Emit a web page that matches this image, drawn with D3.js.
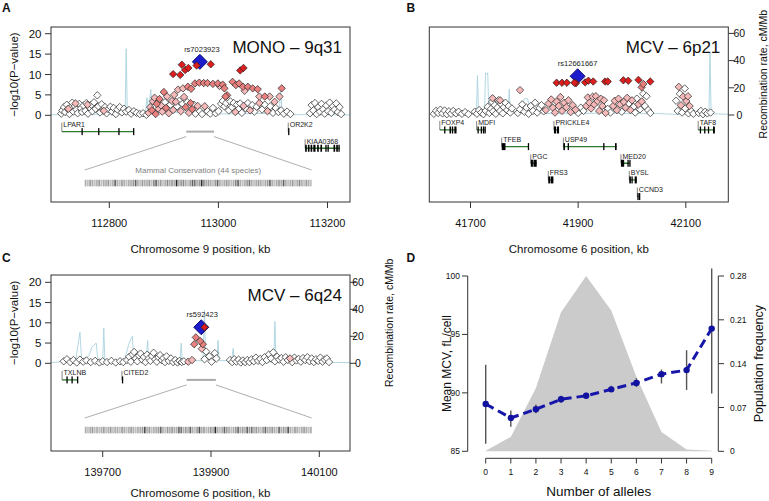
<!DOCTYPE html>
<html><head><meta charset="utf-8">
<script src="https://cdn.jsdelivr.net/npm/d3@7"></script>
<style>body{margin:0;background:#fff}svg{display:block;font-family:"Liberation Sans",Arial,Helvetica,sans-serif}</style>
</head><body><svg id="c" width="769" height="501"></svg>
<script>
// ---------------- DATA ----------------
// SNPs: [position kb, -log10 P, LD class] class 0 white,1 light pink,2 salmon,3 red,4 lead
const snpsA = [
 [112712,0.4,0],[112714,1.2,0],[112717,2.0,0],[112719,0.8,0],[112722,2.6,0],[112724,1.5,0],[112727,0.3,0],[112729,1.9,0],[112732,3.1,0],[112734,0.9,0],
 [112737,2.3,0],[112740,1.4,0],[112742,0.5,0],[112745,2.8,0],[112748,1.7,0],[112750,0.8,0],[112753,2.4,0],[112756,1.1,0],[112758,3.0,0],[112761,0.4,0],
 [112764,1.9,0],[112767,2.6,0],[112769,1.0,0],[112772,3.2,0],[112775,1.6,0],[112778,4.9,0],[112780,2.2,0],[112783,0.7,0],[112786,2.7,0],[112789,1.3,0],
 [112792,2.0,0],[112795,0.5,0],[112798,1.5,0],[112802,2.1,0],[112805,0.9,0],[112808,1.8,0],[112812,0.3,0],[112815,1.4,0],[112819,2.0,0],[112823,0.7,0],
 [112827,1.6,0],[112831,0.9,0],[112836,1.3,0],[112840,0.4,0],[112845,1.0,0],[112850,0.6,0],[112856,0.3,0],[112862,0.5,0],[112868,0.1,0],
 [112738,2.9,1],[112760,2.6,1],[112725,1.6,1],[112790,1.1,1],
 [112872,0.6,1],[112875,2.0,1],[112878,1.2,2],[112880,3.4,1],[112883,4.3,1],[112885,0.3,2],[112887,2.8,2],[112890,1.6,1],[112892,4.0,2],[112895,2.4,1],
 [112897,0.9,1],[112900,5.7,2],[112902,3.2,0],[112904,1.8,2],[112906,4.6,1],[112909,0.5,1],[112912,2.6,0],[112915,3.5,1],[112917,1.3,1],[112919,5.0,1],[112922,3.3,1],
 [112924,2.2,0],[112928,3.5,0],[112931,1.0,1],[112934,2.8,0],[112937,4.5,1],[112940,2.0,2],[112943,3.2,0],[112946,0.6,1],[112949,3.0,2],[112952,1.5,2],
 [112955,2.6,0],[112958,0.4,0],[112962,2.3,1],[112966,1.0,0],[112970,0.3,0],[112975,2.2,1],[112980,1.0,0],[112985,0.4,0],[112990,1.8,0],[112995,0.5,0],
 [113000,1.0,0],[113005,2.8,0],[113008,3.5,0],[113011,2.2,0],[113014,3.0,0],[113016,4.9,2],[113019,1.2,0],[113022,3.4,0],[113025,2.0,0],[113028,3.0,0],
 [113031,0.8,1],[113034,2.6,0],[113037,1.5,0],[113040,2.9,0],[113043,0.6,0],[113046,2.3,1],[113050,1.7,0],[113054,3.0,0],[113058,1.2,1],[113062,2.5,0],
 [113066,0.9,0],[113070,2.1,0],[113075,3.0,1],[113080,1.4,0],[113085,2.6,0],[113090,1.0,1],[113095,2.2,0],[113100,0.6,0],[113105,1.8,0],[113110,0.8,0],
 [113115,1.2,0],[113120,0.4,0],[113126,0.9,0],[113132,0.3,0],
 [112926,6.3,1],[112935,6.6,1],[112944,7.0,2],[112950,6.5,2],[112957,7.8,2],[112965,8.0,2],[112973,7.9,2],[112980,7.9,2],[112990,7.7,2],[112999,7.8,2],
 [113008,7.5,2],[113011,6.6,2],[113013,4.6,2],[113026,8.2,2],[113032,7.4,2],[113038,7.8,2],[113045,7.0,2],[113054,7.0,2],[113063,6.6,2],[113072,6.4,2],
 [113075,4.6,1],[113085,4.6,2],[113094,4.6,1],[113103,3.3,1],[113112,4.6,1],[113116,6.6,2],[113002,7.2,1],[113048,6.0,1],
 [112917,10.1,3],[112930,9.9,3],[112933,12.4,3],[112939,11.1,3],[112945,11.6,3],[112986,12.5,3],[113040,11.0,3],[113046,11.6,3],[112960,12.2,3],
 [112966,13.1,4],
 [113168,0.5,0],[113171,2.5,0],[113174,1.2,0],[113177,3.0,0],[113180,0.3,0],[113183,2.0,0],[113186,0.9,0],[113189,2.8,0],[113192,1.5,0],[113195,0.4,0],
 [113198,2.4,0],[113201,1.0,0],[113204,3.1,0],[113207,0.6,0],[113210,2.2,0],[113213,1.4,0],[113216,2.9,0],[113219,0.8,0],[113222,2.0,0],[113225,0.3,0]
];
const snpsB = [
 [41632,0.3,0],[41636,1.0,0],[41640,0.5,0],[41644,1.3,0],[41648,0.4,0],[41652,1.1,0],[41656,0.2,0],[41660,0.9,0],[41664,0.3,0],[41668,1.0,0],
 [41673,0.4,0],[41678,0.8,0],[41684,0.3,0],[41690,0.7,0],[41696,0.2,0],
 [41708,0.8,0],[41712,0.3,0],[41716,1.2,0],[41720,0.6,0],[41724,0.2,0],[41728,1.0,0],[41732,2.0,0],[41735,0.5,0],[41738,1.5,0],[41740,3.2,0],
 [41742,0.9,0],[41745,2.4,0],[41747,0.3,0],[41750,1.8,0],[41752,3.6,0],[41755,1.0,0],[41757,2.7,0],[41760,0.4,0],[41762,1.9,0],[41765,3.0,0],
 [41768,1.2,0],[41771,2.2,0],[41774,0.6,0],[41777,1.6,0],
 [41788,0.5,0],[41792,1.4,0],[41796,2.6,0],[41800,0.8,0],[41804,1.8,0],[41808,0.3,0],[41812,2.2,0],[41816,1.0,0],[41820,3.0,0],[41824,0.6,0],
 [41828,1.7,0],[41832,2.4,0],[41836,0.9,0],
 [41741,4.1,1],[41755,3.6,1],[41792,6.1,1],[41840,1.2,1],[41845,2.8,1],[41850,3.8,1],[41853,1.8,1],[41857,0.6,1],[41860,3.3,1],[41864,2.2,1],
 [41867,4.4,1],[41870,1.0,1],[41874,3.0,1],[41878,1.9,1],[41882,3.6,1],[41886,0.7,1],[41890,2.4,1],[41895,1.3,1],[41900,0.5,0],[41905,1.8,0],
 [41910,1.0,0],[41915,2.2,1],[41918,4.3,1],[41921,3.0,1],[41924,1.6,1],[41927,4.5,1],[41930,2.6,1],[41933,4.6,1],[41936,3.4,1],[41939,1.0,1],
 [41942,4.0,1],[41945,2.2,1],[41948,3.6,1],[41951,0.5,1],[41955,1.5,0],[41960,0.6,0],[41965,2.2,1],[41968,3.5,1],[41972,1.2,1],[41975,4.0,1],
 [41978,2.6,1],[41981,0.8,0],[41985,3.2,1],[41988,1.8,1],[41991,4.2,1],[41994,2.8,0],[41997,1.2,1],[42000,3.6,1],[42003,2.0,0],[42006,0.6,0],
 [42009,4.0,0],[42012,2.6,1],[42015,1.4,0],[42018,3.3,1],[42021,5.2,0],[42024,2.2,0],[42027,4.6,0],[42030,1.2,0],[42034,0.5,0],
 [42082,3.5,0],[42085,1.0,0],[42087,6.9,1],[42089,5.2,0],[42091,2.4,1],[42093,0.6,0],[42095,4.5,1],[42098,6.5,0],[42099,1.6,0],[42101,3.4,1],
 [42104,4.6,1],[42105,0.4,0],[42107,2.2,1],[42110,1.0,0],[42114,0.3,0],
 [42124,0.5,0],[42128,1.0,0],[42132,0.2,0],[42136,0.8,0],[42140,0.4,0],[42146,0.6,0],
 [42018,6.8,2],[42021,7.6,2],
 [41860,7.9,3],[41870,7.9,3],[41879,7.9,3],[41896,7.8,3],[41913,8.0,3],[41919,8.4,3],[41928,8.2,3],[41950,8.2,3],[41955,8.2,3],[41984,8.5,3],
 [41993,8.4,3],[42012,8.6,3],[42034,8.2,3],
 [41899,9.5,4],[41893,7.9,3]
];
const snpsC = [
 [139628,0.5,0],[139634,1.0,0],[139640,0.3,0],[139646,0.8,0],[139652,0.2,0],[139658,0.9,0],[139664,0.4,0],[139670,0.7,0],[139678,0.3,0],[139686,0.6,0],
 [139694,0.2,0],[139700,0.5,0],[139708,0.3,0],[139716,0.6,0],[139724,0.2,0],[139732,0.5,0],[139738,0.3,0],
 [139745,0.8,0],[139749,1.6,0],[139752,0.4,0],[139755,2.2,0],[139758,2.8,0],[139761,1.2,0],[139764,0.5,0],[139767,1.9,0],[139770,2.4,0],[139773,0.9,0],
 [139776,1.6,0],[139779,0.3,0],[139782,2.1,0],[139785,1.2,0],[139788,0.6,0],[139791,1.8,0],[139794,2.6,0],[139797,1.0,0],[139800,0.4,0],[139803,1.5,0],
 [139806,2.0,0],[139809,0.8,0],[139812,1.3,0],[139815,0.3,0],[139818,1.7,0],[139822,0.6,0],[139826,1.2,0],[139830,0.3,0],[139834,0.8,0],[139838,0.2,0],
 [139842,0.6,0],[139846,0.3,0],[139850,0.5,0],
 [139858,0.4,1],[139865,0.8,1],[139883,3.6,1],
 [139872,6.4,2],[139869,4.7,2],[139885,4.7,2],[139880,5.5,2],
 [139891,2.9,0],[139897,1.7,0],[139907,2.5,0],[139910,1.2,0],[139901,0.4,0],[139888,1.0,0],
 [139935,0.8,0],[139939,0.3,0],[139943,1.0,0],[139947,0.4,0],[139951,0.9,0],[139955,0.2,0],[139959,0.7,0],[139963,0.3,0],[139967,0.8,0],[139971,0.3,0],
 [139975,1.0,0],[139979,0.5,0],[139983,1.4,0],[139987,0.6,0],[139991,1.1,0],[139995,0.3,0],[139999,1.5,0],[140003,0.8,0],[140007,2.2,0],[140011,1.2,0],
 [140015,2.7,0],[140018,0.5,0],[140022,1.6,0],[140026,0.9,0],[140030,1.3,0],[140034,0.4,0],[140038,1.5,0],[140042,0.8,0],[140046,1.2,1],[140050,0.3,0],
 [140054,1.4,0],[140058,0.7,0],[140062,1.1,0],[140066,0.4,0],[140070,1.3,0],[140074,0.8,0],[140078,1.5,0],[140082,0.5,0],[140086,1.2,0],[140090,0.3,0],
 [140094,1.0,0],[140098,0.6,0],[140102,1.4,0],[140106,0.4,0],[140110,0.9,0],[140114,1.2,0],[140118,0.3,0],
 [139882,8.9,4],[139888,8.9,3]
];
// recombination rate, [kb, cM/Mb]
const recA = [[112693,0.4],[112740,0.6],[112800,0.8],[112829,0.8],[112831,49],[112833,0.8],[112866,1],[112869,13],[112872,3],[112876,19],[112879,4],[112890,3],[112893,9],[112896,3],[112930,2],[112970,1.5],[113000,1],[113050,1.2],[113100,1.5],[113112,2],[113114,20],[113117,2],[113140,0.5],[113200,0.4],[113242,0.3]];
const recB = [[41623,0.5],[41690,0.8],[41711,1],[41713,29],[41715,1],[41726,1],[41728,31],[41730,30],[41732,31],[41734,1],[41770,1.5],[41772,19],[41774,2],[41795,3],[41800,12],[41806,12],[41812,2],[41850,1],[41900,1],[41950,1.5],[42000,1],[42050,1],[42080,0.5],[42143,1],[42145,46],[42147,1],[42180,0.5]];
const recC = [[139604,0.5],[139650,2],[139658,23],[139661,3],[139674,5],[139680,12],[139688,15],[139691,3],[139700,2],[139702,26],[139704,2],[139740,2],[139748,14],[139752,18],[139755,20],[139757,2],[139780,2],[139783,17],[139785,2],[139843,2],[139845,15],[139847,2],[139885,2],[139888,39],[139890,3],[139911,2],[139913,17],[139915,2],[139938,2],[139941,11],[139943,1],[140016,1],[140018,31],[140020,1],[140158,0.5]];
// genes: name, start, end, row, exons [start,end]
const genesA = [
 {name:"LPAR1",start:112713,end:112844,row:0,exons:[[112749,112749.6],[112779.5,112780.1],[112816.5,112817.1],[112843.5,112844]]},
 {name:"OR2K2",start:113128,end:113129,row:0,exons:[[113127.8,113129]]},
 {name:"KIAA0368",start:113159,end:113222,row:1,exons:[[113159,113162],[113164,113167],[113169,113172],[113174,113178],[113181,113184],[113187,113190],[113196,113198],[113200,113202],[113211,113214],[113216,113219],[113220,113222]]}
];
const genesB = [
 {name:"FOXP4",start:41643,end:41674,row:0,exons:[[41651,41652],[41661,41664],[41665.5,41667.5],[41670,41674]]},
 {name:"MDFI",start:41711.5,end:41727,row:0,exons:[[41713,41714],[41719,41720],[41723,41724],[41726,41727]]},
 {name:"PRICKLE4",start:41855,end:41864.5,row:0,exons:[[41855,41859],[41860.5,41864.5]]},
 {name:"TAF8",start:42123,end:42154,row:0,exons:[[42126,42127],[42134,42135],[42141,42142.5],[42150.5,42154]]},
 {name:"TFEB",start:41758,end:41807.5,row:1,exons:[[41758,41765],[41806.5,41807.5]]},
 {name:"USP49",start:41872.5,end:41971.5,row:1,exons:[[41872.5,41875.5],[41880.5,41883],[41946.5,41947.3],[41968.5,41971.5]]},
 {name:"PGC",start:41812,end:41823,row:2,exons:[[41812,41816],[41817,41823]]},
 {name:"MED20",start:41979.5,end:41996,row:2,exons:[[41979.5,41985.5],[41991.5,41992.3],[41995,41996]]},
 {name:"FRS3",start:41844.5,end:41854,row:3,exons:[[41844.5,41848],[41849,41854]]},
 {name:"BYSL",start:41995,end:42009,row:3,exons:[[41995,41998],[41999,42001],[42005,42009]]},
 {name:"CCND3",start:42010,end:42015,row:4,exons:[[42010,42011.5],[42013,42015]]}
];
const genesC = [
 {name:"TXLNB",start:139625,end:139654.5,row:0,exons:[[139633,139634],[139642.3,139643.3],[139652.5,139654.5]]},
 {name:"CITED2",start:139735.5,end:139737.5,row:0,exons:[[139735.5,139737.5]]}
];
// highlighted region and conservation strip
const hlA = [112941,112992], stripA = [112755,113171];
const hlC = [139855,139909], stripC = [139667,140086];
const consA = [2,1,3,2,1,2,3,1,2,2, 3,1,2,6,2,1,3,2,1,2, 2,3,6,2,1,3,2,2,3,1, 4,6,2,3,1,2,4,2,3,2, 9,2,3,4,2,1,3,6,5,2,
 3,9,4,2,3,2,1,3,6,2, 1,2,3,2,1,2,4,6,2,1, 2,3,5,2,1,2,3,2,1,2, 3,6,2,1,2,3,2,6,2,1, 2,3,1,2,4,2,1,3,2,1];
const consC = [2,1,2,3,1,2,1,2,3,1, 2,3,1,2,2,1,3,2,1,2, 3,2,1,2,2,3,7,2,3,1, 2,2,3,6,2,1,3,2,3,2, 2,6,5,2,3,2,6,2,1,3,
 7,2,3,1,2,3,2,9,2,1, 2,6,3,2,1,2,3,6,2,3, 2,6,3,5,2,3,2,1,3,6, 2,2,3,2,1,6,2,3,2,7, 2,1,3,2,1,2,3,2,1,2];
// Panel D
const alleles = [0,1,2,3,4,5,6,7,8,9];
const meanMCV = [89.05,87.85,88.6,89.45,89.75,90.3,90.85,91.6,91.95,95.5];
const ciLow  = [85.65,87.1,88.25,89.15,89.5,90.1,90.5,90.8,90.25,89.95];
const ciHigh = [92.4,88.5,89.0,89.75,90.0,90.6,91.25,92.0,93.65,100.65];
const popFreq = [0.001,0.023,0.101,0.222,0.28,0.225,0.119,0.031,0.003,0.001];
const dLeftTicks = [85,90,95,100];
const dRightTicks = [0,0.07,0.14,0.21,0.28];
const pTicks = [0,5,10,15,20];
const rTicks = [0,20,40,60];

// ---------------- DRAW ----------------
const svg = d3.select("#c");
const FILL = ["#ffffff","#f6b9b9","#e8807e","#dd1e1e","#1c1ccc"];
const diamond = (x,y,s)=>`M${x},${y-s}L${x+s},${y}L${x},${y+s}L${x-s},${y}Z`;

function locusPanel(o){
  const g = svg.append("g");
  const clipId = "clip"+o.id;
  svg.append("clipPath").attr("id",clipId).append("rect")
    .attr("x",o.box[0]).attr("y",o.box[1]).attr("width",o.box[2]-o.box[0]).attr("height",o.box[3]-o.box[1]);
  const inner = g.append("g").attr("clip-path",`url(#${clipId})`);
  const x=o.x, y=o.y, r=o.r;
  // recombination
  inner.append("path").datum(o.rec)
    .attr("d", d3.line().x(d=>x(d[0])).y(d=>r(d[1])))
    .attr("fill","none").attr("stroke","#a9d3df").attr("stroke-width",0.9);
  // genes
  const rowY = k => y(o.geneTop - 4.08*k);
  o.genes.forEach(gn=>{
    const yy = rowY(gn.row);
    inner.append("line").attr("x1",x(gn.start)).attr("x2",x(gn.end)).attr("y1",yy).attr("y2",yy)
      .attr("stroke","#2c7a2c").attr("stroke-width",1.3);
    inner.append("line").attr("x1",x(gn.start)).attr("x2",x(gn.start)).attr("y1",yy-9).attr("y2",yy)
      .attr("stroke","#333").attr("stroke-width",0.6);
    gn.exons.forEach(e=>{
      const w = Math.max(1.3, x(e[1])-x(e[0]));
      inner.append("rect").attr("x",x(e[0])).attr("y",yy-3.5).attr("width",w).attr("height",7).attr("fill","#000");
    });
    inner.append("text").attr("x",x(gn.start)+1.5).attr("y",yy-4.5).attr("font-size",7).attr("fill","#222").text(gn.name);
  });
  // highlight + conservation strip
  if(o.hl){
    const y0 = y(0), hy = rowY(0);
    inner.append("line").attr("x1",x(o.hl[0])).attr("x2",x(o.hl[1])).attr("y1",hy).attr("y2",hy)
      .attr("stroke","#aaaaaa").attr("stroke-width",2);
    inner.append("line").attr("x1",x(o.hl[0])).attr("y1",hy+5).attr("x2",x(o.strip[0])).attr("y2",y0+54.7).attr("stroke","#999").attr("stroke-width",0.8);
    inner.append("line").attr("x1",x(o.hl[1])).attr("y1",hy+5).attr("x2",x(o.strip[1])).attr("y2",y0+54.7).attr("stroke","#999").attr("stroke-width",0.8);
    const sx0 = x(o.strip[0]), sx1 = x(o.strip[1]);
    const bx = d3.scaleBand().domain(d3.range(o.cons.length)).range([sx0,sx1]).paddingInner(0.3);
    const sTop = y0+o.stripOff;
    inner.append("rect").attr("x",sx0).attr("y",sTop).attr("width",sx1-sx0).attr("height",6.5).attr("fill","#e6e6e6");
    inner.selectAll(null).data(o.cons).join("rect")
      .attr("x",(d,i)=>bx(i)).attr("y",sTop).attr("width",bx.bandwidth()).attr("height",6.5)
      .attr("fill",d=>{const v=Math.round(212-d*19);return `rgb(${v},${v},${v})`;});
    if(o.consLabel){
      inner.append("text").attr("x",(sx0+sx1)/2).attr("y",y0+57.8).attr("text-anchor","middle")
        .attr("font-size",8).attr("fill","#808080").text(o.consLabel);
    }
  }
  // SNPs
  const order = [0,1,2,4,3];
  order.forEach(c=>{
    inner.selectAll(null).data(o.snps.filter(d=>d[2]===c)).join("path")
      .attr("d",d=>diamond(x(d[0]),y(d[1]), c===4?7.5:3.7))
      .attr("fill",FILL[c]).attr("stroke",c===4?"#101070":"#222").attr("stroke-width",c===4?1:0.7);
  });
  // lead label
  const lead = o.snps.find(d=>d[2]===4);
  g.append("text").attr("x",x(lead[0])+o.leadDx).attr("y",y(lead[1])-10).attr("text-anchor","middle")
    .attr("font-size",7.5).attr("fill","#222").text(o.leadName);
  // title
  g.append("text").attr("x",o.box[2]-8).attr("y",o.box[1]+26.3).attr("text-anchor","end")
    .attr("font-size",17).attr("fill","#111").text(o.title);
  // box
  g.append("rect").attr("x",o.box[0]).attr("y",o.box[1]).attr("width",o.box[2]-o.box[0]).attr("height",o.box[3]-o.box[1])
    .attr("fill","none").attr("stroke","#333").attr("stroke-width",1);
  // x axis
  o.xTicks.forEach(t=>{
    g.append("line").attr("x1",x(t)).attr("x2",x(t)).attr("y1",o.box[3]).attr("y2",o.box[3]+6).attr("stroke","#333");
    g.append("text").attr("x",x(t)).attr("y",o.box[3]+25).attr("text-anchor","middle").attr("font-size",11).attr("fill","#111").text(t);
  });
  g.append("text").attr("x",(o.box[0]+o.box[2])/2).attr("y",o.xTitleY).attr("text-anchor","middle").attr("font-size",11.5).attr("fill","#111").text(o.xTitle);
  // left axis
  if(o.left){
    pTicks.forEach(t=>{
      g.append("line").attr("x1",o.box[0]-6).attr("x2",o.box[0]).attr("y1",y(t)).attr("y2",y(t)).attr("stroke","#333");
      g.append("text").attr("x",o.box[0]-9.5).attr("y",y(t)).attr("dy","0.36em").attr("text-anchor","end").attr("font-size",11.5).attr("fill","#111").text(t);
    });
    g.append("text").attr("transform",`translate(13.5,${(y(0)+y(20))/2}) rotate(-90)`).attr("dy","0.36em")
      .attr("text-anchor","middle").attr("font-size",11.5).attr("fill","#111").text("\u2212log10(P\u2212value)");
  }
  if(o.right){
    rTicks.forEach(t=>{
      g.append("line").attr("x1",o.box[2]).attr("x2",o.box[2]+6).attr("y1",r(t)).attr("y2",r(t)).attr("stroke","#333");
      g.append("text").attr("x",o.box[2]+o.rLabDx).attr("y",r(t)).attr("dy","0.36em").attr("text-anchor","middle").attr("font-size",10.5).attr("fill","#111").text(t);
    });
    g.append("text").attr("transform",`translate(${o.rTitleX},${(r(0)+r(60))/2}) rotate(-90)`).attr("dy","0.36em")
      .attr("text-anchor","middle").attr("font-size",10.5).attr("fill","#111").text("Recombination rate, cM/Mb");
  }
}

// Panel A
const xA = d3.scaleLinear().domain([112800,113200]).range([109.3,327.5]);
const yA = d3.scaleLinear().domain([0,20]).range([115.3,33.7]);
const rA = d3.scaleLinear().domain([0,60]).range([115.3,33.7]);
locusPanel({id:"A",box:[51,27,350,202],x:xA,y:yA,r:rA,snps:snpsA,rec:recA,genes:genesA,geneTop:-4.0,
  hl:hlA,strip:stripA,cons:consA,stripOff:64.5,consLabel:"Mammal Conservation (44 species)",
  leadName:"rs7023923",leadDx:2,title:"MONO \u2013 9q31",xTicks:[112800,113000,113200],xTitle:"Chromosome 9 position, kb",xTitleY:252.5,left:true,right:false});
// Panel B
const xB = d3.scaleLinear().domain([41700,42100]).range([470.5,685.8]);
const yB = d3.scaleLinear().domain([0,20]).range([115,33.4]);
const rB = d3.scaleLinear().domain([0,60]).range([115,33.4]);
locusPanel({id:"B",box:[429.3,27,728.3,202],x:xB,y:yB,r:rB,snps:snpsB,rec:recB,genes:genesB,geneTop:-3.67,
  leadName:"rs12661667",leadDx:0,title:"MCV \u2013 6p21",xTicks:[41700,41900,42100],xTitle:"Chromosome 6 position, kb",xTitleY:252.5,
  left:false,right:true,rLabDx:11,rTitleX:763});
// Panel C
const xC = d3.scaleLinear().domain([139700,140100]).range([102.7,319.3]);
const yC = d3.scaleLinear().domain([0,20]).range([363.3,282.3]);
const rC = d3.scaleLinear().domain([0,60]).range([363.3,282.3]);
locusPanel({id:"C",box:[51,275,350,451],x:xC,y:yC,r:rC,snps:snpsC,rec:recC,genes:genesC,geneTop:-4.1,
  hl:hlC,strip:stripC,cons:consC,stripOff:63.5,consLabel:null,
  leadName:"rs592423",leadDx:1,title:"MCV \u2013 6q24",xTicks:[139700,139900,140100],xTitle:"Chromosome 6 position, kb",xTitleY:496.5,
  left:true,right:true,rLabDx:8,rTitleX:389});

// Panel D
const xD = d3.scaleLinear().domain([0,9]).range([485.7,711.7]);
const yD = d3.scaleLinear().domain([85,100]).range([451.3,276]);
const fD = d3.scaleLinear().domain([0,0.28]).range([451.3,276]);
const gD = svg.append("g");
gD.append("path").datum(alleles)
  .attr("d",d3.area().x(i=>xD(i)).y0(fD(0)).y1(i=>fD(popFreq[i])))
  .attr("fill","#cbcbcb");
gD.selectAll(null).data(alleles).join("line")
  .attr("x1",i=>xD(i)).attr("x2",i=>xD(i)).attr("y1",i=>yD(ciLow[i])).attr("y2",i=>yD(ciHigh[i]))
  .attr("stroke","#555").attr("stroke-width",1.4);
gD.append("path").datum(alleles)
  .attr("d",d3.line().x(i=>xD(i)).y(i=>yD(meanMCV[i])))
  .attr("fill","none").attr("stroke","#1616aa").attr("stroke-width",3).attr("stroke-dasharray","9,5");
gD.selectAll(null).data(alleles).join("circle")
  .attr("cx",i=>xD(i)).attr("cy",i=>yD(meanMCV[i])).attr("r",3.2).attr("fill","#1212a0");
// axes D
gD.append("line").attr("x1",467.7).attr("x2",467.7).attr("y1",yD(85)).attr("y2",yD(100)).attr("stroke","#333");
dLeftTicks.forEach(t=>{
  gD.append("line").attr("x1",462).attr("x2",467.7).attr("y1",yD(t)).attr("y2",yD(t)).attr("stroke","#333");
  gD.append("text").attr("x",460).attr("y",yD(t)).attr("dy","0.36em").attr("text-anchor","end").attr("font-size",8.5).attr("fill","#111").text(t);
});
gD.append("line").attr("x1",718.3).attr("x2",718.3).attr("y1",fD(0)).attr("y2",fD(0.28)).attr("stroke","#333");
dRightTicks.forEach(t=>{
  gD.append("line").attr("x1",718.3).attr("x2",724).attr("y1",fD(t)).attr("y2",fD(t)).attr("stroke","#333");
  gD.append("text").attr("x",730).attr("y",fD(t)).attr("dy","0.36em").attr("text-anchor","start").attr("font-size",8.5).attr("fill","#111").text(t);
});
gD.append("line").attr("x1",xD(0)).attr("x2",xD(9)).attr("y1",458.3).attr("y2",458.3).attr("stroke","#333");
alleles.forEach(t=>{
  gD.append("line").attr("x1",xD(t)).attr("x2",xD(t)).attr("y1",458.3).attr("y2",463.5).attr("stroke","#333");
  gD.append("text").attr("x",xD(t)).attr("y",475).attr("text-anchor","middle").attr("font-size",8.5).attr("fill","#111").text(t);
});
gD.append("text").attr("x",(xD(0)+xD(9))/2).attr("y",495.5).attr("text-anchor","middle").attr("font-size",13.5).attr("fill","#111").text("Number of alleles");
gD.append("text").attr("transform",`translate(446.7,${(yD(85)+yD(100))/2}) rotate(-90)`).attr("dy","0.36em")
  .attr("text-anchor","middle").attr("font-size",12).attr("fill","#111").text("Mean MCV, fL/cell");
gD.append("text").attr("transform",`translate(758.3,${(fD(0)+fD(0.28))/2}) rotate(-90)`).attr("dy","0.36em")
  .attr("text-anchor","middle").attr("font-size",12.5).attr("fill","#111").text("Population frequency");

// panel letters
[["A",2,12],["B",406.5,12],["C",2,262],["D",406.5,262]].forEach(l=>{
  svg.append("text").attr("x",l[1]).attr("y",l[2]).attr("font-size",12).attr("font-weight","bold").attr("fill","#111").text(l[0]);
});
</script></body></html>
